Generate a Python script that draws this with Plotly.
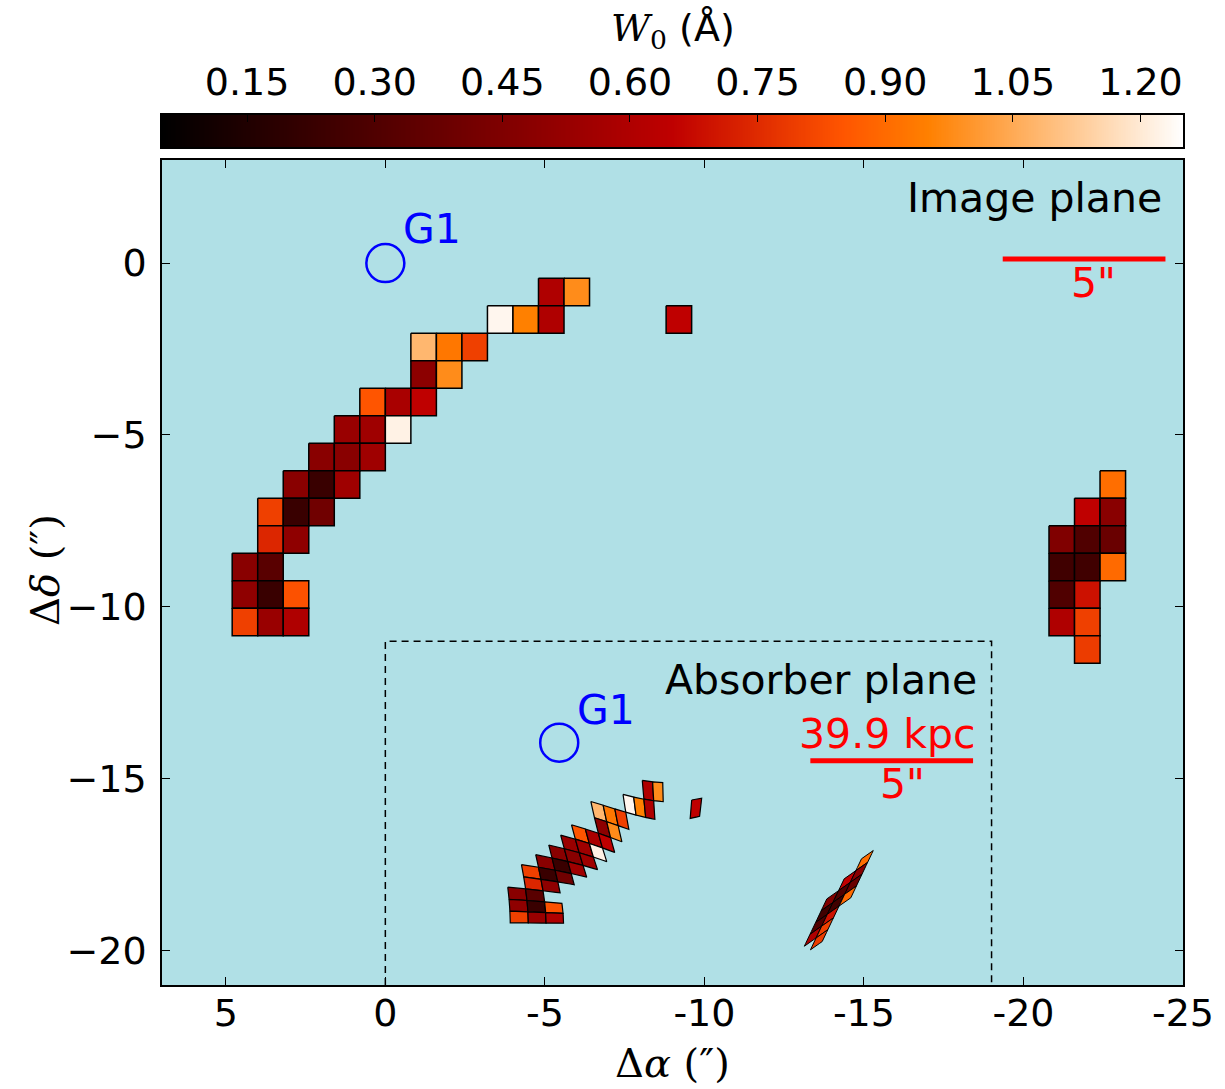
import numpy as np
import plotly.graph_objects as go

# ---------------- data ----------------
# image-plane W0 map, 0.8" spaxels: centre offsets (arcsec) and W0 (Angstrom)
# main arc + isolated spaxel
arc_dra = [-5.2, -6.0,
           -3.6, -4.4, -5.2, -9.2,
           -1.2, -2.0, -2.8,
           -1.2, -2.0,
           0.4, -0.4, -1.2,
           1.2, 0.4, -0.4,
           2.0, 1.2, 0.4,
           2.8, 2.0, 1.2,
           3.6, 2.8, 2.0,
           3.6, 2.8,
           4.4, 3.6,
           4.4, 3.6, 2.8,
           4.4, 3.6, 2.8]
arc_ddec = [-0.84, -0.84,
            -1.64, -1.64, -1.64, -1.64,
            -2.44, -2.44, -2.44,
            -3.24, -3.24,
            -4.04, -4.04, -4.04,
            -4.84, -4.84, -4.84,
            -5.64, -5.64, -5.64,
            -6.44, -6.44, -6.44,
            -7.24, -7.24, -7.24,
            -8.04, -8.04,
            -8.84, -8.84,
            -9.64, -9.64, -9.64,
            -10.44, -10.44, -10.44]
arc_w0 = [0.60, 0.98,
          1.23, 0.95, 0.60, 0.65,
          1.08, 0.93, 0.80,
          0.49, 0.98,
          0.85, 0.58, 0.65,
          0.53, 0.55, 1.22,
          0.48, 0.48, 0.55,
          0.48, 0.23, 0.55,
          0.80, 0.23, 0.40,
          0.74, 0.50,
          0.48, 0.33,
          0.50, 0.23, 0.84,
          0.80, 0.53, 0.60]

# counter-image
ci_dra = [-22.8,
          -22.0, -22.8,
          -21.2, -22.0, -22.8,
          -21.2, -22.0, -22.8,
          -21.2, -22.0,
          -21.2, -22.0,
          -22.0]
ci_ddec = [-6.44,
           -7.24, -7.24,
           -8.04, -8.04, -8.04,
           -8.84, -8.84, -8.84,
           -9.64, -9.64,
           -10.44, -10.44,
           -11.24]
ci_w0 = [0.91,
         0.65, 0.48,
         0.45, 0.30, 0.38,
         0.25, 0.25, 0.90,
         0.30, 0.69,
         0.60, 0.80,
         0.79]

# galaxy G1: image plane and absorber plane positions
g1_dra = [0.0, -5.45]
g1_ddec = [0.0, -13.95]

cbar_ticks = [0.15, 0.30, 0.45, 0.60, 0.75, 0.90, 1.05, 1.20]
x_ticks = [5, 0, -5, -10, -15, -20, -25]
x_tick_text = ["5", "0", "-5", "-10", "-15", "-20", "-25"]
y_ticks = [0, -5, -10, -15, -20]
y_tick_text = ["0", "\u22125", "\u221210", "\u221215", "\u221220"]

# ---------------- settings ----------------
VMIN, VMAX = 0.05, 1.25
PIX = 0.8
BG = "#b0e0e6"

# simple de-lensing model used to project spaxels to the absorber plane
LENS_C = (-7.0, -11.0)
ABS_K = (-8.93, -19.26)
ALPHA_AMP, ALPHA_SLOPE = 1.975, 0.50
CI_REF_IMG = (-22.8, -6.44)
CI_REF_ABS = (-15.02, -17.38)
CI_JAC = ((0.46, -0.22), (-0.30, 0.43))


def gist_heat(v):
    t = min(max((v - VMIN) / (VMAX - VMIN), 0.0), 1.0)
    r = min(1.0, 1.5 * t)
    g = min(max(2 * t - 1, 0.0), 1.0)
    b = min(max(4 * t - 3, 0.0), 1.0)
    return "rgb(%d,%d,%d)" % (round(r * 255), round(g * 255), round(b * 255))


CSCALE = [[0.0, "rgb(0,0,0)"], [0.5, "rgb(191,0,0)"], [2 / 3, "rgb(255,85,0)"],
          [0.75, "rgb(255,128,0)"], [1.0, "rgb(255,255,255)"]]


def delens_main(x, y):
    dx, dy = x - LENS_C[0], y - LENS_C[1]
    r = np.hypot(dx, dy)
    h = r - ALPHA_AMP * r ** ALPHA_SLOPE
    return ABS_K[0] + h * dx / r, ABS_K[1] + h * dy / r


def delens_ci(x, y):
    dx, dy = x - CI_REF_IMG[0], y - CI_REF_IMG[1]
    return (CI_REF_ABS[0] + CI_JAC[0][0] * dx + CI_JAC[0][1] * dy,
            CI_REF_ABS[1] + CI_JAC[1][0] * dx + CI_JAC[1][1] * dy)


def cell_outline(xc, yc, n=4):
    h = PIX / 2
    corners = [(xc + h, yc + h), (xc - h, yc + h), (xc - h, yc - h), (xc + h, yc - h)]
    xs, ys = [], []
    for k in range(4):
        (x0, y0), (x1, y1) = corners[k], corners[(k + 1) % 4]
        for s in range(n):
            f = s / n
            xs.append(x0 + (x1 - x0) * f)
            ys.append(y0 + (y1 - y0) * f)
    xs.append(xs[0]); ys.append(ys[0])
    return np.array(xs), np.array(ys)


fig = go.Figure()


def add_cell(px, py, val, lw):
    fig.add_trace(go.Scatter(x=px, y=py, mode="lines", fill="toself",
                             fillcolor=gist_heat(val),
                             line=dict(color="black", width=lw),
                             hoverinfo="skip", showlegend=False))


# image plane
for xc, yc, v in zip(arc_dra + ci_dra, arc_ddec + ci_ddec, arc_w0 + ci_w0):
    px, py = cell_outline(xc, yc, 1)
    add_cell(px, py, v, 1.5)

# absorber plane
for xc, yc, v in zip(arc_dra, arc_ddec, arc_w0):
    px, py = cell_outline(xc, yc, 4)
    ax, ay = delens_main(px, py)
    add_cell(ax, ay, v, 1.2)
for xc, yc, v in zip(ci_dra, ci_ddec, ci_w0):
    px, py = cell_outline(xc, yc, 4)
    ax, ay = delens_ci(px, py)
    add_cell(ax, ay, v, 1.0)

# G1 markers
fig.add_trace(go.Scatter(x=g1_dra, y=g1_ddec, mode="markers",
                         marker=dict(symbol="circle-open", size=38,
                                     line=dict(color="#0000ff", width=2.5),
                                     color="#0000ff"),
                         hoverinfo="skip", showlegend=False))

# inset frame (dashed)
fig.add_trace(go.Scatter(x=[0, 0, -19, -19], y=[-21, -11, -11, -21], mode="lines",
                         line=dict(color="black", width=1.5, dash="7px,5px"),
                         hoverinfo="skip", showlegend=False))

# scale bars
fig.add_trace(go.Scatter(x=[-19.35, -24.45], y=[0.12, 0.12], mode="lines",
                         line=dict(color="red", width=5), hoverinfo="skip", showlegend=False))
fig.add_trace(go.Scatter(x=[-13.32, -18.42], y=[-14.48, -14.48], mode="lines",
                         line=dict(color="red", width=5), hoverinfo="skip", showlegend=False))

# colour bar as heat strip on its own axes
grad = np.linspace(VMIN, VMAX, 601)
fig.add_trace(go.Heatmap(x=grad, y=[0], z=[grad], colorscale=CSCALE, zmin=VMIN, zmax=VMAX,
                         showscale=False, hoverinfo="skip", xaxis="x2", yaxis="y2"))

SANS = "DejaVu Sans"
SERIF = "DejaVu Serif"
FS = 38

ann = []


def text(x, y, s, color="black", size=41, xanchor="center", ref=("x", "y"), **kw):
    ann.append(dict(x=x, y=y, text=s, xref=ref[0], yref=ref[1], showarrow=False,
                    xanchor=xanchor, yanchor="middle",
                    font=dict(family=kw.pop("family", SANS), size=size, color=color), **kw))


text(-24.42, 1.89, "Image plane", xanchor="right")
text(-18.62, -12.12, "Absorber plane", xanchor="right")
text(-1.47, 0.99, "G1", color="#0000ff")
text(-6.93, -13.0, "G1", color="#0000ff")
text(-22.2, -0.58, "5\"", color="red")
text(-16.2, -15.15, "5\"", color="red")
text(-15.74, -13.69, "39.9 kpc", color="red")
text(0.5, -0.0897, "\u0394<i>\u03b1</i> (\u2033)", size=40, family=SERIF, ref=("paper", "paper"))
text(-0.1146, 0.477, "\u0394<i>\u03b4</i> (\u2033)", size=40, family=SERIF, ref=("paper", "paper"),
     textangle=-90)
text(0.5, 1.0977, "<span style='font-family:DejaVu Serif'><i>W</i><sub>0</sub></span> (\u00c5)",
     size=38, ref=("paper", "paper"))

fig.update_layout(
    width=1225, height=1089,
    margin=dict(l=162, r=42, t=115, b=104),
    paper_bgcolor="white",
    plot_bgcolor=BG,
    annotations=ann,
    xaxis=dict(domain=[0, 1], range=[7, -25], tickvals=x_ticks, ticktext=x_tick_text,
               ticks="inside", ticklen=8, tickwidth=1.2, tickcolor="black",
               showline=True, linecolor="black", linewidth=1.5, mirror="allticks",
               showgrid=False, zeroline=False, anchor="y",
               tickfont=dict(family=SANS, size=FS, color="black"), ticklabelstandoff=-6),
    yaxis=dict(domain=[0, 0.9483], range=[-21, 3], tickvals=y_ticks, ticktext=y_tick_text,
               ticks="inside", ticklen=8, tickwidth=1.2, tickcolor="black",
               showline=True, linecolor="black", linewidth=1.5, mirror="allticks",
               showgrid=False, zeroline=False, anchor="x",
               tickfont=dict(family=SANS, size=FS, color="black"), ticklabelstandoff=6),
    xaxis2=dict(domain=[0, 1], range=[VMIN, VMAX], anchor="y2", side="top",
                tickvals=cbar_ticks, ticktext=["%.2f" % t for t in cbar_ticks],
                ticks="inside", ticklen=7, tickwidth=1, tickcolor="black",
                showline=True, linecolor="black", linewidth=1.5, mirror=True,
                showgrid=False, zeroline=False,
                tickfont=dict(family=SANS, size=FS, color="black"), ticklabelstandoff=3),
    yaxis2=dict(domain=[0.9632, 1.0], range=[-0.5, 0.5], anchor="x2",
                showticklabels=False, ticks="", showline=True, linecolor="black",
                linewidth=1.5, mirror=True, showgrid=False, zeroline=False),
)

fig.write_html("out.html")
